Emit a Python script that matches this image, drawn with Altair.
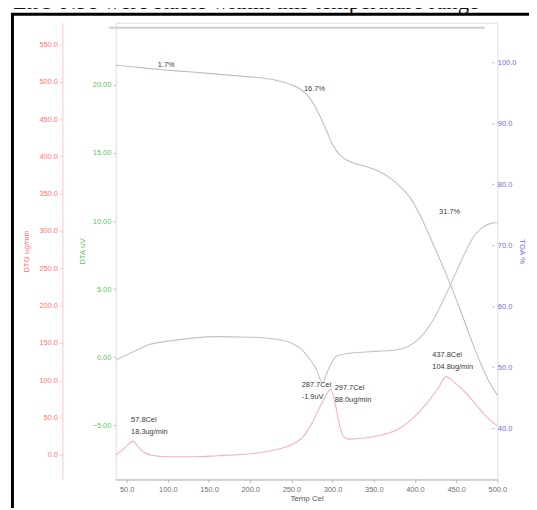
import altair as alt
import pandas as pd

# ---------------- data ----------------
temp_tga = [37, 50, 75, 100, 130, 160, 200, 230, 250, 262, 272, 282, 292, 300, 308, 318,
            335, 355, 370, 382, 395, 408, 420, 432, 444, 456, 468, 480, 490, 500]
tga_pct = [99.5, 99.35, 99.0, 98.7, 98.4, 98.05, 97.6, 97.1, 96.3, 95.5, 94.2, 91.9, 89.0, 86.5,
           84.9, 83.9, 83.1, 82.2, 81.0, 79.6, 77.6, 74.4, 70.8, 67.1, 63.2, 59.0, 54.6, 50.5,
           47.6, 45.4]

temp_dta = [37, 50, 65, 76, 100, 130, 160, 200, 230, 250, 262, 272, 280, 287.7, 294, 300, 305,
            320, 340, 360, 376, 390, 400, 412, 424, 436, 448, 460, 470, 482, 492, 500]
dta_uv = [-0.2, 0.17, 0.6, 0.89, 1.18, 1.4, 1.51, 1.47, 1.33, 1.04, 0.6, -0.12, -0.85, -1.9,
          -1.0, -0.27, 0.09, 0.28, 0.38, 0.46, 0.53, 0.75, 1.11, 1.84, 2.93, 4.38, 5.98, 7.58,
          8.74, 9.54, 9.83, 9.9]

temp_dtg = [37, 45, 50, 57.8, 63, 70, 80, 100, 130, 160, 200, 230, 250, 265, 275, 285, 292,
            297.7, 303, 308, 313, 320, 340, 360, 380, 400, 415, 428, 437.8, 448, 460, 472, 485, 500]
dtg_ugmin = [0, 6.6, 11.9, 18.3, 11.9, 4.0, -0.7, -2.7, -2.7, -1.3, 1.3, 6.6, 13.3, 25.2, 42.4,
             65.0, 79.5, 88.0, 69.0, 42.0, 25.0, 21.0, 22.5, 26.5, 34.5, 51.7, 70.0, 88.8,
             104.8, 96.8, 84.8, 70.0, 53.0, 38.4]

x_ticks = [50, 100, 150, 200, 250, 300, 350, 400, 450, 500]
dtg_ticks = [0, 50, 100, 150, 200, 250, 300, 350, 400, 450, 500, 550]
dta_ticks = [-5, 0, 5, 10, 15, 20]
tga_ticks = [40, 50, 60, 70, 80, 90, 100]

# peak annotations (anchored at the peaks)
dtg_peak_T = [57.8, 297.7, 437.8]
dtg_peak_v = [18.3, 88.0, 104.8]
dtg_peak_txt = ["57.8Cel\n18.3ug/min", "297.7Cel\n88.0ug/min", "437.8Cel\n104.8ug/min"]
dta_peak_T = [287.7]
dta_peak_v = [-1.9]
dta_peak_txt = ["287.7Cel\n-1.9uV"]

# step mass-loss labels
step_txt = ["1.7%", "16.7%", "31.7%"]
step_T = [98, 278, 442]
step_pct = [99.5, 95.6, 75.5]

# ---------------- chart ----------------
W, H = 386, 462
FONT = "Liberation Sans"
RED, GREEN, BLUE = "#ff7373", "#5cbf5c", "#6b6be6"

xscale = alt.Scale(domain=[36.8, 500], nice=False, zero=False)
xaxis = alt.Axis(values=x_ticks, format=".1f", title="Temp Cel", grid=False,
                 labelColor="#6e6e6e", labelFontSize=7.5, labelFont=FONT,
                 labelOverlap=False, labelFlush=False,
                 domainColor="#b5b5b5", tickColor="#b5b5b5", tickSize=3,
                 titleColor="#555555", titleFontSize=8, titleFont=FONT,
                 titleFontWeight="normal", titlePadding=2, labelPadding=3)
X = alt.X("T:Q", scale=xscale, axis=xaxis)

dtg_scale = alt.Scale(domain=[-33.1, 579.2], nice=False, zero=False)
dta_scale = alt.Scale(domain=[-8.98, 24.57], nice=False, zero=False)
tga_scale = alt.Scale(domain=[31.57, 106.49], nice=False, zero=False)

dtg_df = pd.DataFrame({"T": temp_dtg, "v": dtg_ugmin})
dta_df = pd.DataFrame({"T": temp_dta, "v": dta_uv})
tga_df = pd.DataFrame({"T": temp_tga, "v": tga_pct})

dtg_line = alt.Chart(dtg_df).mark_line(color="#f4b3bd", strokeWidth=1.1, interpolate="monotone").encode(
    x=X,
    y=alt.Y("v:Q", scale=dtg_scale, axis=alt.Axis(
        orient="left", offset=54, values=dtg_ticks, format=".1f", title="DTG ug/min",
        grid=False, labelColor=RED, labelFontSize=7.5, labelFont=FONT,
        domainColor="#ffc4c4", tickColor="#ffc4c4", tickSize=3, labelPadding=2,
        titleColor=RED, titleFontSize=8, titleFont=FONT, titleFontWeight="normal",
        titlePadding=8)),
)

dta_line = alt.Chart(dta_df).mark_line(color="#c4c4c4", strokeWidth=1.1, interpolate="monotone").encode(
    x=X,
    y=alt.Y("v:Q", scale=dta_scale, axis=alt.Axis(
        orient="left", offset=0, values=dta_ticks, format=".2f", title="DTA uV",
        grid=False, domain=False, labelColor=GREEN, labelFontSize=7.5, labelFont=FONT,
        tickColor="#b8dcb8", tickSize=3, labelPadding=2,
        titleColor=GREEN, titleFontSize=8, titleFont=FONT, titleFontWeight="normal",
        titlePadding=6)),
)

tga_line = alt.Chart(tga_df).mark_line(color="#bdbdce", strokeWidth=1.1, interpolate="monotone").encode(
    x=X,
    y=alt.Y("v:Q", scale=tga_scale, axis=alt.Axis(
        orient="right", offset=-6, values=tga_ticks, format=".1f", title="TGA %",
        grid=False, domain=False, labelColor=BLUE, labelFontSize=7.5, labelFont=FONT,
        tickColor="#c4c4f0", tickSize=3, labelPadding=3,
        titleColor=BLUE, titleFontSize=8, titleFont=FONT, titleFontWeight="normal",
        titlePadding=2)),
)


def ann(T, v, txt, scale, dx, dy):
    df = pd.DataFrame({"T": [T], "v": [v], "txt": [txt]})
    return alt.Chart(df).mark_text(
        align="left", baseline="top", lineBreak="\n", lineHeight=12, fontSize=7.5,
        font=FONT, color="#3a3a3a", dx=dx, dy=dy,
    ).encode(x=X, y=alt.Y("v:Q", scale=scale, axis=None), text="txt:N")


ann_layers = [
    ann(dtg_peak_T[0], dtg_peak_v[0], dtg_peak_txt[0], dtg_scale, -2, -25),
    ann(dtg_peak_T[1], dtg_peak_v[1], dtg_peak_txt[1], dtg_scale, 4, -5),
    ann(dtg_peak_T[2], dtg_peak_v[2], dtg_peak_txt[2], dtg_scale, -14, -26),
    ann(dta_peak_T[0], dta_peak_v[0], dta_peak_txt[0], dta_scale, -21, -2),
]

step_df = pd.DataFrame({"T": step_T, "v": step_pct, "txt": step_txt})
step_text = alt.Chart(step_df).mark_text(
    fontSize=7.5, font=FONT, color="#3a3a3a", align="center", baseline="middle"
).encode(x=X, y=alt.Y("v:Q", scale=tga_scale, axis=None), text="txt:N")

one = pd.DataFrame({"a": [0]})
frame = alt.Chart(one).mark_rect(fill="transparent", stroke="black", strokeWidth=3).encode(
    x=alt.value(-104.5), x2=alt.value(W + 120), y=alt.value(-8.5), y2=alt.value(H + 60)
)
top_rule = alt.Chart(one).mark_rule(color="#cfcfcf", strokeWidth=2).encode(
    x=alt.value(-7), x2=alt.value(373), y=alt.value(5)
)
caption = alt.Chart(one).mark_text(
    text="ZnO NPs were stable within this temperature range", font="Liberation Serif",
    fontSize=23, align="left", baseline="alphabetic", color="#111111"
).encode(x=alt.value(-104), y=alt.value(-14))

chart = alt.layer(
    frame, top_rule, caption, dtg_line, dta_line, tga_line, step_text, *ann_layers
).resolve_scale(y="independent").properties(
    width=W, height=H,
    padding={"left": 109, "top": 12, "right": 32, "bottom": 26},
    autosize=alt.AutoSizeParams(type="none"),
).configure_view(strokeWidth=0).configure(font=FONT, background="white")

chart.save("out.html", embed_options={"renderer": "svg", "actions": False})
